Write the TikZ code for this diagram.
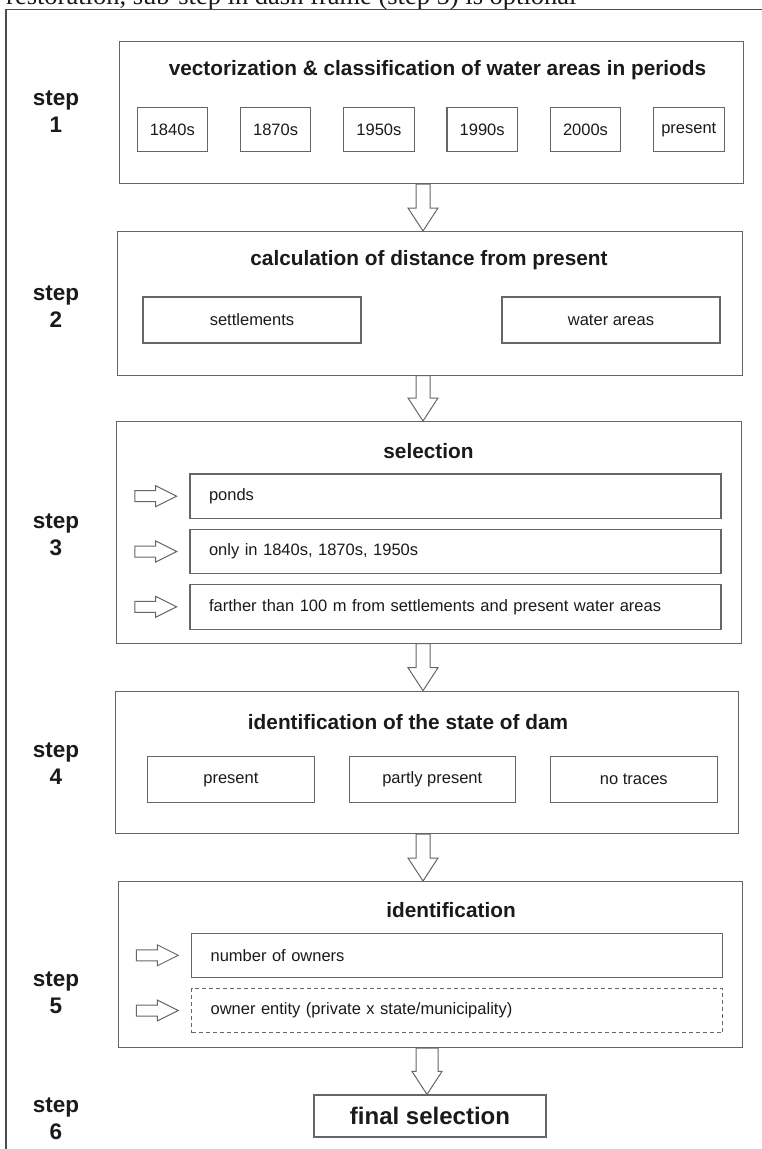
\documentclass[tikz,border=0pt]{standalone}
\usepackage{fontspec}
\setmainfont{Liberation Serif}
\setsansfont{Liberation Sans}
\usetikzlibrary{calc,positioning}
\definecolor{framegray}{HTML}{4D4D4D}
\definecolor{boxgray}{HTML}{666666}
\definecolor{inkblack}{HTML}{1A1A1A}

\begin{document}
\begin{tikzpicture}[x=1pt,y=-1pt,
  stage/.style={draw=boxgray,line width=1.2pt,anchor=north west,inner sep=0pt},
  heading/.style={font=\sffamily\bfseries\fontsize{20.8}{25}\selectfont,
    text=inkblack,inner sep=0pt},
  cell/.style={draw=boxgray,line width=1.1pt,minimum width=70.5pt,
    minimum height=44.7pt,inner sep=0pt,
    font=\sffamily\fontsize{16.5}{20}\selectfont,text=inkblack},
  wide/.style={cell,minimum width=218pt,minimum height=46pt},
  state/.style={cell,minimum width=166.5pt,minimum height=45.6pt},
  row/.style={draw=boxgray,line width=1.1pt,text width=493pt,inner xsep=19pt,
    inner ysep=0pt,align=left,minimum height=44.5pt,
    font=\sffamily\fontsize{16.5}{20}\selectfont,text=inkblack},
  steplabel/.style={font=\sffamily\bfseries\fontsize{22.5}{27}\selectfont,
    align=center,text=inkblack,inner sep=0pt},
  downblock/.style={draw=boxgray,fill=white,line width=1pt,
    to path={let \p1=(\tikztostart),\p2=(\tikztotarget) in
      (\x1-#1,\y1) -- (\x1-#1,\y2+23pt) -- (\x1-15pt,\y2+23pt) -- (\x1,\y2)
      -- (\x1+15pt,\y2+23pt) -- (\x1+#1,\y2+23pt) -- (\x1+#1,\y1) -- cycle}},
  downblock/.default=7pt,
  rightblock/.style={draw=boxgray,fill=white,line width=1pt,
    to path={let \p1=(\tikztostart),\p2=(\tikztotarget) in
      (\x1,\y1-5.5pt) -- (\x2-21pt,\y1-5.5pt) -- (\x2-21pt,\y1-10.5pt) -- (\x2,\y1)
      -- (\x2-21pt,\y1+10.5pt) -- (\x2-21pt,\y1+5.5pt) -- (\x1,\y1+5.5pt) -- cycle}}
]
\useasboundingbox (0,0) rectangle (762,1149);
\clip (0,0) rectangle (762,1149);

% caption cut off at the top, and the frame
\node[anchor=base west,inner sep=0pt,text=inkblack,
  font=\rmfamily\fontsize{26.5}{30}\selectfont] (caption) at (6,4.5)
  {restoration, sub-step in dash frame (step 5) is optional};
\draw[framegray,line width=1.1pt] (6,1149) |- (762,9.3);

% step labels
\foreach \n/\y in {1/112,2/307,3/535,4/764,5/993,6/1119}{
  \node[steplabel] (l\n) at (56,\y) {step\\\n};
}

% step 1
\node[stage,minimum width=624pt,minimum height=142.3pt] (s1) at (119,40.7) {};
\node[heading] (t1) at (437.5,70) {vectorization \& classification of water areas in periods};
\foreach \lab [count=\i] in {1840s,1870s,1950s,1990s,2000s,present}{
  \node[cell] (p\i) at ({172.3+(\i-1)*103.3},129.4) {\lab};
}

% step 2
\node[stage,minimum width=625pt,minimum height=143.5pt] (s2) at (117,231) {};
\node[heading] (t2) at (429,260) {calculation of distance from present};
\node[wide] (d1) at (252,320) {settlements};
\node[wide] (d2) at (611,320) {water areas};

% step 3
\node[stage,minimum width=624.5pt,minimum height=221.5pt] (s3) at (116,421) {};
\node[heading] (t3) at (428.5,450.7) {selection};
\foreach \txt [count=\i] in {ponds,{only in 1840s, 1870s, 1950s},
    {farther than 100 m from settlements and present water areas}}{
  \node[row] (r\i) at (455.5,{440.9+55.3*\i}) {\txt};
  \coordinate (a\i) at ([xshift=-54.6pt]r\i.west);
  \draw[rightblock] (a\i) to ([xshift=-12.8pt]r\i.west);
}

% step 4
\node[stage,minimum width=623pt,minimum height=142.3pt] (s4) at (115,690.7) {};
\node[heading] (t4) at (408,721.7) {identification of the state of dam};
\node[state] (m1) at (230.9,779.5) {present};
\node[state] (m2) at (432.3,779.5) {partly present};
\node[state] (m3) at (633.8,779.5) {no traces};

% step 5
\node[stage,minimum width=624pt,minimum height=166pt] (s5) at (118,881) {};
\node[heading] (t5) at (451,910) {identification};
\node[row,text width=492.8pt] (r4) at (457,955.3) {number of owners};
\node[row,text width=492.8pt,dash pattern=on 4pt off 3pt] (r5) at (457,1010.5)
  {owner entity (private x state/municipality)};
\coordinate (a4) at ([xshift=-54.6pt]r4.west);
\coordinate (a5) at ([xshift=-54.6pt]r5.west);
\draw[rightblock] (a4) to ([xshift=-12.8pt]r4.west);
\draw[rightblock] (a5) to ([xshift=-12.8pt]r5.west);

% step 6
\node[draw=boxgray,line width=1.2pt,minimum width=232pt,minimum height=42pt,
  inner sep=0pt,text=inkblack,font=\sffamily\bfseries\fontsize{24}{28}\selectfont]
  (final) at (430,1116) {final selection};

% block arrows between the steps
\coordinate (spine) at (423,0);
\coordinate (lastspine) at (427,0);
\draw[downblock] (s1.south -| spine) to (s2.north -| spine);
\draw[downblock] (s2.south -| spine) to (s3.north -| spine);
\draw[downblock] (s3.south -| spine) to (s4.north -| spine);
\draw[downblock] (s4.south -| spine) to (s5.north -| spine);
\draw[downblock=11pt] (s5.south -| lastspine) to (final.north -| lastspine);
\end{tikzpicture}
\end{document}
